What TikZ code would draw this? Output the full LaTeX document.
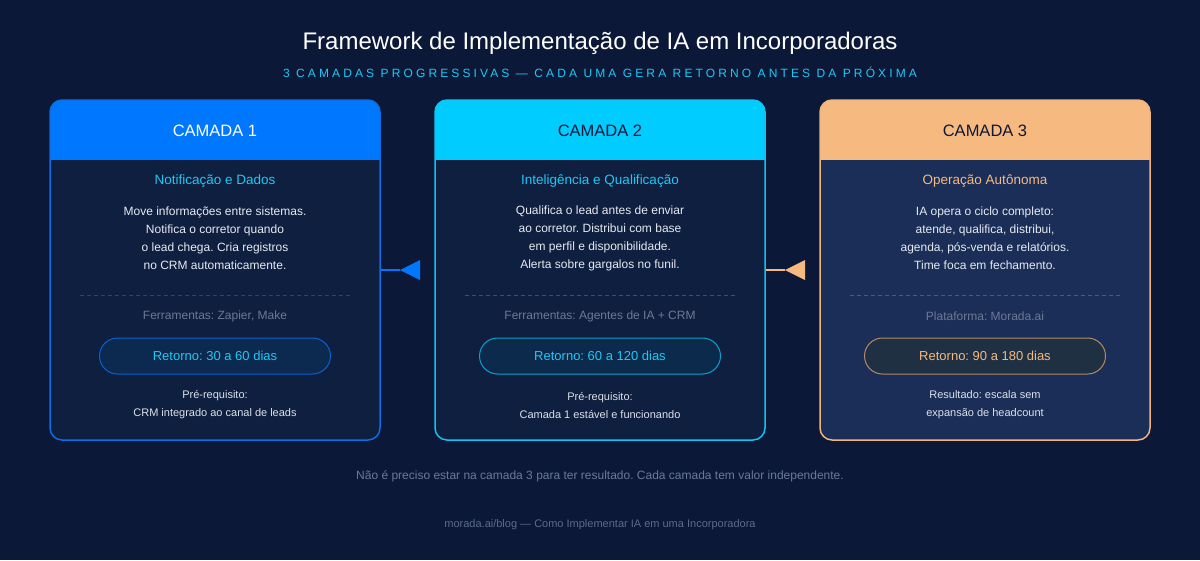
\documentclass[tikz,border=0pt]{standalone}
\usepackage{fontspec}
\setmainfont{Liberation Sans}
\frenchspacing
\definecolor{bg}{HTML}{0B1838}
\definecolor{cfa}{HTML}{0F1F3F}
\definecolor{cfc}{HTML}{1B2E57}
\definecolor{ha}{HTML}{0077FF}
\definecolor{hb}{HTML}{00CCFF}
\definecolor{hc}{HTML}{F6B97F}
\definecolor{ba}{HTML}{0A6EE6}
\definecolor{bb}{HTML}{10C4F2}
\definecolor{bc}{HTML}{F0B47C}
\definecolor{cyantxt}{HTML}{1EC8F5}
\definecolor{bodytxt}{HTML}{E6EAF2}
\definecolor{graytxt}{HTML}{6B7A96}
\definecolor{pretxt}{HTML}{DCE1EA}
\definecolor{pfa}{HTML}{0C2A50}
\definecolor{pba}{HTML}{0A60D0}
\definecolor{pfb}{HTML}{0C2A4C}
\definecolor{pbb}{HTML}{0AA0D0}
\definecolor{pfc}{HTML}{1F3042}
\definecolor{pbc}{HTML}{B48A66}
\definecolor{da}{HTML}{1C4A80}
\definecolor{db}{HTML}{1C5A88}
\definecolor{dc}{HTML}{4A5A7A}
\definecolor{notetxt}{HTML}{6B7A96}
\definecolor{foottxt}{HTML}{5D6B8A}
\tikzset{
  card/.style={rounded corners=12pt, line width=1.5pt, minimum width=330pt, minimum height=340pt, inner sep=0pt},
  hdrfill/.style={path picture={\fill[#1, sharp corners] (path picture bounding box.north west) rectangle ([yshift=-60pt]path picture bounding box.north east);}},
  hdrtxt/.style={font=\fontsize{16.5}{19}\selectfont},
  subtxt/.style={font=\fontsize{13.5}{16}\selectfont},
  bodytext/.style={font=\fontsize{12}{18}\selectfont, align=center, text=bodytxt},
  tooltxt/.style={font=\fontsize{12}{14}\selectfont, text=graytxt},
  pill/.style={rounded corners=18pt, line width=1pt, minimum height=36pt, inner sep=0pt, font=\fontsize{13}{15}\selectfont},
  pretext/.style={font=\fontsize{11}{18}\selectfont, align=center, text=pretxt},
  sep/.style={line width=1pt, dash pattern=on 4pt off 3pt},
  conn/.style={line width=2pt},
}
\begin{document}
\begin{tikzpicture}[x=1pt,y=-1pt]
\fill[bg] (0,0) rectangle (1200,560);
\useasboundingbox (0,0) rectangle (1200,560);

\node[font=\fontsize{24}{27}\selectfont, text=white] (title) at (600,43) {Framework de Implementação de IA em Incorporadoras};
\node[font=\fontsize{12}{14}\selectfont\addfontfeature{LetterSpace=26}, text=cyantxt] (subtitle) at (600,72) {3 CAMADAS PROGRESSIVAS — CADA UMA GERA RETORNO ANTES DA PRÓXIMA};

% Card 1
\node[card, draw=ba, fill=cfa, hdrfill=ha] (c1) at (215,270) {};
\node[hdrtxt, text=white] (h1) at (215,131) {CAMADA 1};
\node[subtxt, text=cyantxt] (s1) at (215,181) {Notificação e Dados};
\node[bodytext] (b1) at (215,238) {Move informações entre sistemas.\\Notifica o corretor quando\\o lead chega. Cria registros\\no CRM automaticamente.};
\coordinate (d1a) at (80,295); \coordinate (d1b) at (350,295);
\draw[sep, da] (d1a) -- (d1b);
\node[tooltxt] (t1) at (215,316) {Ferramentas: Zapier, Make};
\node[pill, draw=pba, fill=pfa, minimum width=231pt, text=cyantxt] (p1) at (215,356) {Retorno: 30 a 60 dias};
\node[pretext] (r1) at (215,405) {Pré-requisito:\\CRM integrado ao canal de leads};

% Card 2
\node[card, draw=bb, fill=cfa, hdrfill=hb] (c2) at (600,270) {};
\node[hdrtxt, text=bg] (h2) at (600,131) {CAMADA 2};
\node[subtxt, text=cyantxt] (s2) at (600,181) {Inteligência e Qualificação};
\node[bodytext] (b2) at (600,238) {Qualifica o lead antes de enviar\\ao corretor. Distribui com base\\em perfil e disponibilidade.\\Alerta sobre gargalos no funil.};
\coordinate (d2a) at (465,295); \coordinate (d2b) at (735,295);
\draw[sep, db] (d2a) -- (d2b);
\node[tooltxt] (t2) at (600,316) {Ferramentas: Agentes de IA + CRM};
\node[pill, draw=pbb, fill=pfb, minimum width=241pt, text=cyantxt] (p2) at (600,356) {Retorno: 60 a 120 dias};
\node[pretext] (r2) at (600,405) {Pré-requisito:\\Camada 1 estável e funcionando};

% Card 3
\node[card, draw=bc, fill=cfc, hdrfill=hc] (c3) at (985,270) {};
\node[hdrtxt, text=bg] (h3) at (985,131) {CAMADA 3};
\node[subtxt, text=hc] (s3) at (985,181) {Operação Autônoma};
\node[bodytext] (b3) at (985,238) {IA opera o ciclo completo:\\atende, qualifica, distribui,\\agenda, pós-venda e relatórios.\\Time foca em fechamento.};
\coordinate (d3a) at (850,295); \coordinate (d3b) at (1120,295);
\draw[sep, dc] (d3a) -- (d3b);
\node[tooltxt] (t3) at (985,316) {Plataforma: Morada.ai};
\node[pill, draw=pbc, fill=pfc, minimum width=241pt, text=hc] (p3) at (985,356) {Retorno: 90 a 180 dias};
\node[pretext] (r3) at (985,405) {Resultado: escala sem\\expansão de headcount};

% Connectors
\coordinate (a1) at (400,270);
\draw[conn, ha] (c1.east) -- (a1);
\fill[ha] (a1) -- ++(20,-10) -- ++(0,20) -- cycle;
\coordinate (a2) at (785,270);
\draw[conn, hc] (c2.east) -- (a2);
\fill[hc] (a2) -- ++(20,-10) -- ++(0,20) -- cycle;

\node[font=\fontsize{12}{14}\selectfont, text=notetxt] (note) at (600,476) {Não é preciso estar na camada 3 para ter resultado. Cada camada tem valor independente.};
\node[font=\fontsize{11}{13}\selectfont, text=foottxt] (foot) at (600,525) {morada.ai/blog — Como Implementar IA em uma Incorporadora};
\end{tikzpicture}
\end{document}
